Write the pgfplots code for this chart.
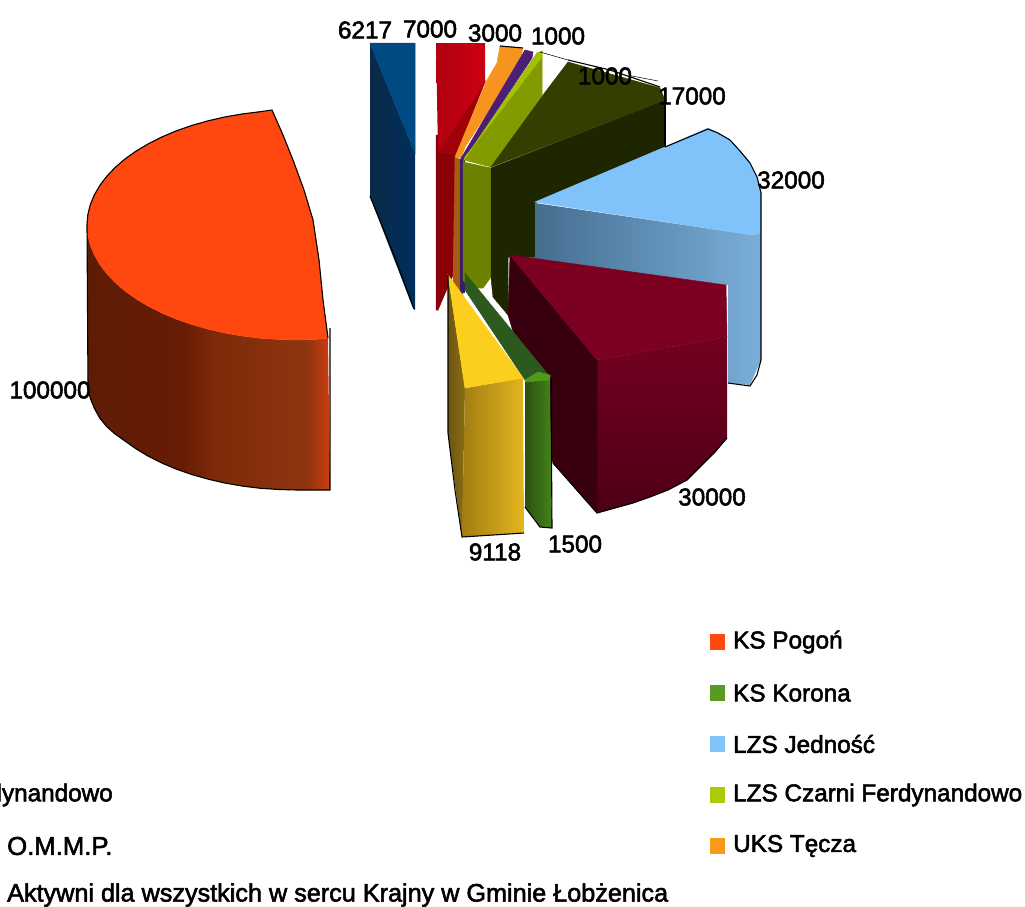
\documentclass[border=0pt]{standalone}
\usepackage{pgfplots}
\pgfplotsset{compat=1.18}
\usepackage{fontspec}
\setmainfont[RawFeature={embolden=2.2}]{Liberation Sans}
\definecolor{s1}{HTML}{5E1C05}
\definecolor{s2}{HTML}{681C04}
\definecolor{s3}{HTML}{7C2A08}
\definecolor{s4}{HTML}{8C3410}
\definecolor{s5}{HTML}{C83C10}
\pgfdeclarehorizontalshading{bigside}{100bp}{
 color(0bp)=(s1); color(25bp)=(s1); color(44.8bp)=(s2); color(51bp)=(s3);
 color(67.4bp)=(s4); color(70bp)=(s4); color(74.6bp)=(s5); color(100bp)=(s5)}
\newcommand\face[2]{\definecolor{c#1}{HTML}{#1}\addplot[draw=c#1,line width=0.5pt,fill=c#1,forget plot] coordinates {#2} -- cycle;}
\newcommand\sface[3]{\definecolor{c#1}{HTML}{#1}\definecolor{c#2}{HTML}{#2}\addplot[draw=none,left color=c#1,right color=c#2,forget plot] coordinates {#3} -- cycle;}
\newcommand\vface[3]{\definecolor{c#1}{HTML}{#1}\definecolor{c#2}{HTML}{#2}\addplot[draw=none,top color=c#1,bottom color=c#2,forget plot] coordinates {#3} -- cycle;}
\newcommand\edge[1]{\addplot[black,line width=1.1pt,forget plot] coordinates {#1};}
\newcommand\lab[2]{\node[font=\fontsize{24.3}{26}\selectfont,inner sep=0pt] at (axis cs:#1) {#2};}
\newcommand\leg[5]{\definecolor{c#1}{HTML}{#1}\addplot[draw=none,fill=c#1,forget plot] coordinates {(710,#2) (725,#2) (725,#3) (710,#3)} -- cycle;
\node[font=\fontsize{24.3}{26}\selectfont,inner sep=0pt,anchor=west] at (axis cs:733,#4) {#5};}
\begin{document}
\begin{tikzpicture}
\begin{axis}[
 scale only axis, width=1025pt, height=906pt,
 xmin=0, xmax=1025, ymin=0, ymax=906, y dir=reverse,
 axis line style={draw=none}, ticks=none, clip=true]
% blue 6217
\sface{0A2A48}{002E5C}{(370,43)(415,153)(415,310)(413,308)(370,197)}
\face{004A84}{(370,43)(415,43)(415,153)}
\edge{(370,196)(392,250)(414,309)}
% red 7000
\face{8A0008}{(436,135)(456,135)(456,155)(453,275)(438,310)(436,310)}
\face{A00008}{(485,82)(456,155)(438,152)}
\sface{B00010}{CC0010}{(436,43)(485,43)(485,82)(438,152)}
% orange 3000
\face{A65B10}{(455,157)(461,160)(463,295)(453,285)}
\face{F7941D}{(500,46)(523,48)(520,63)(465,147)(461,158)(455,157)(487,80)(497,63)}
\edge{(500,46)(523,48)}
% purple 1000
\face{3A1C66}{(460,160)(464,160)(464,292)(460,292)}
\face{4B1E78}{(525,50)(533,52)(532,58)(464,160)(460,160)}
% olive
\face{6D8200}{(463,162)(491,168)(491,277)(483,288)(470,288)(463,280)}
\face{849B00}{(537,53)(542,51)(542,95)(491,167)(464,160)}
\face{A4C000}{(537,53)(542,51)(542,57)(465,157)(464,160)}
% dark olive 17000
\face{1E2600}{(491,168)(665,100)(665,147)(535,203)(535,260)(508,257)(508,315)(493,297)(491,278)}
\face{343E00}{(543,95)(568,62)(660,88)(665,100)(491,167)}
\edge{(568,60)(610,70)(660,87)}
\edge{(665,90)(665,147)}
% light blue 32000
\sface{3F6788}{7AAED8}{(535,203)(752,235)(761,233)(761,360)(750,385)(728,383)(728,285)(510,257)(535,257)}
\face{80C2FA}{(535,202)(665,147)(708,128)(718,133)(730,140)(740,151)(750,163)(757,177)(761,193)(761,233)(752,235)}
\edge{(665,147)(708,129)(718,133)(730,140)(740,151)(750,163)(757,177)(761,193)(761,360)(757,375)(750,386)(728,383)}
% maroon 30000
\vface{740020}{4E0016}{(597,360)(727,337)(727,438)(715,452)(700,467)(687,480)(668,490)(650,497)(633,503)(615,508)(597,513)}
\face{38000F}{(510,255)(597,360)(597,513)(553,463)(508,315)}
\face{7C0022}{(510,255)(726,285)(727,337)(597,360)}
\edge{(727,438)(715,452)(700,467)(687,480)(668,490)(650,497)(633,503)(615,508)(597,513)(575,488)(553,463)}
% green 1500
\sface{2C5010}{44851A}{(525,380)(550,377)(552,528)(540,527)(525,507)}
\face{2C5A1E}{(465,273)(550,377)(525,380)(465,290)}
\face{4F9A1A}{(538,372)(550,375)(550,380)(525,382)(525,380)}
\edge{(525,507)(540,527)(552,528)(551,377)}
% yellow 9118
\sface{6E5510}{8A6E14}{(448,275)(465,388)(462,537)(448,433)}
\sface{A07D12}{E4B61E}{(465,388)(523,378)(524,533)(462,537)}
\face{FCCF1E}{(448,275)(523,378)(465,388)}
\edge{(448,275)(448,433)(455,490)(462,537)(524,533)}
% big orange 100000
\addplot[draw=none,shading=bigside,forget plot] coordinates {(87,225)(87.8,235)(90.2,245)(94.2,254.8)(99.7,264.3)(106.7,273.6)(115.1,282.5)(125,291)(136.1,298.9)(148.5,306.3)(162,313.1)(176.5,319.2)(192,324.6)(208.3,329.2)(225.2,333.1)(242.7,336.1)(260.5,338.3)(279,339.5)(297,340)(315,339.5)(328,338)(330,490)(315,490)(297,490)(279,489.5)(260.5,488.3)(242.7,486.1)(225.2,483.1)(208.3,479.2)(192,474.6)(176.5,469.2)(162,463.1)(148.5,456.3)(136.1,448.9)(125,441)(115.1,434)(106.7,426.6)(99.7,418)(94.2,408)(90.2,398)(88,388)} -- cycle;
\face{FF4810}{(272,110.9)(260.5,111.7)(242.7,113.9)(225.2,116.9)(208.3,120.8)(192,125.4)(176.5,130.8)(162,136.9)(148.5,143.7)(136.1,151.1)(125,159)(115.1,167.5)(106.7,176.4)(99.7,185.7)(94.2,195.2)(90.2,205)(87.8,215)(87,225)(87.8,235)(90.2,245)(94.2,254.8)(99.7,264.3)(106.7,273.6)(115.1,282.5)(125,291)(136.1,298.9)(148.5,306.3)(162,313.1)(176.5,319.2)(192,324.6)(208.3,329.2)(225.2,333.1)(242.7,336.1)(260.5,338.3)(279,339.5)(297,340)(315,339.5)(328,338)(323,300)(319,260)(313,220)(304,190)(293,160)(283,135)}
\edge{(87,225)(87.8,215)(90.2,205)(94.2,195.2)(99.7,185.7)(106.7,176.4)(115.1,167.5)(125,159)(136.1,151.1)(148.5,143.7)(162,136.9)(176.5,130.8)(192,125.4)(208.3,120.8)(225.2,116.9)(242.7,113.9)(260.5,111.7)(272,110)(283,135)(293,160)(304,190)(313,220)(319,260)(323,300)(328,338)}
\edge{(87,225)(88,388)(90.2,398)(94.2,408)(99.7,418)(106.7,426.6)(115.1,434)(125,441)(136.1,448.9)(148.5,456.3)(162,463.1)(176.5,469.2)(192,474.6)(208.3,479.2)(225.2,483.1)(242.7,486.1)(260.5,488.3)(279,489.5)(297,490)(330,490)(330,328)}
% leader lines
\addplot[black,line width=0.5pt,forget plot] coordinates {(540,52)(568,60)};
\addplot[black,line width=0.5pt,forget plot] coordinates {(632,76)(658,81)};
% labels
\lab{365,30}{6217}
\lab{430,29}{7000}
\lab{495,33}{3000}
\lab{558,36}{1000}
\lab{605,76}{1000}
\lab{692,96}{17000}
\lab{791,180}{32000}
\lab{50,390}{100000}
\lab{712,497}{30000}
\lab{495,552}{9118}
\lab{575,544}{1500}
% legend
\leg{FF4810}{634}{650}{642}{KS Pogoń}
\leg{5A9A1E}{685}{701}{693}{KS Korona}
\leg{80C4FB}{736}{752}{744}{LZS Jedność}
\leg{AEC80A}{787}{803}{795}{LZS Czarni Ferdynandowo}
\leg{F79A1A}{838}{854}{846}{UKS Tęcza}
\node[font=\fontsize{24.3}{26}\selectfont,inner sep=0pt,anchor=east] at (axis cs:113,795) {LKS Ferdynandowo};
\node[font=\fontsize{25.7}{26}\selectfont,inner sep=0pt,anchor=west] at (axis cs:7,846) {O.M.M.P.};
\node[font=\fontsize{25.2}{26}\selectfont,inner sep=0pt,anchor=west] at (axis cs:7,895) {Aktywni dla wszystkich w sercu Krajny w Gminie Łobżenica};
\end{axis}
\end{tikzpicture}
\end{document}
